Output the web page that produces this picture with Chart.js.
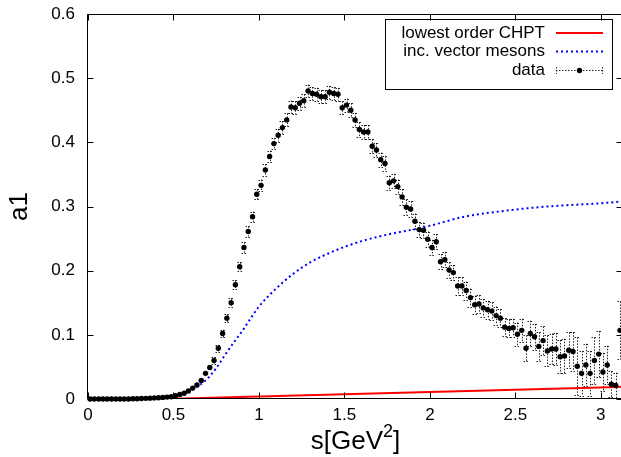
<!DOCTYPE html>
<html><head><meta charset="utf-8">
<script src="https://cdn.jsdelivr.net/npm/chart.js@4/dist/chart.umd.min.js"></script>
<style>html,body{margin:0;padding:0;background:#fff;overflow:hidden;width:621px;height:457px}</style>
</head><body>
<canvas id="c" width="640" height="457" style="display:block"></canvas>
<script>
const dataS = [
0.0125,0.0375,0.0625,0.0875,0.1125,0.1375,0.1625,0.1875,0.2125,0.2375,
0.2625,0.2875,0.3125,0.3375,0.3625,0.3875,0.4125,0.4375,0.4625,0.4875,
0.5125,0.5375,0.5625,0.5875,0.6125,0.6375,0.6625,0.6875,0.7125,0.7375,
0.7625,0.7875,0.8125,0.8375,0.8625,0.8875,0.9125,0.9375,0.9625,0.9875,
1.0125,1.0375,1.0625,1.0875,1.1125,1.1375,1.1625,1.1875,1.2125,1.2375,
1.2625,1.2875,1.3125,1.3375,1.3625,1.3875,1.4125,1.4375,1.4625,1.4875,
1.5125,1.5375,1.5625,1.5875,1.6125,1.6375,1.6625,1.6875,1.7125,1.7375,
1.7625,1.7875,1.8125,1.8375,1.8625,1.8875,1.9125,1.9375,1.9625,1.9875,
2.0125,2.0375,2.0625,2.0875,2.1125,2.1375,2.1625,2.1875,2.2125,2.2375,
2.2625,2.2875,2.3125,2.3375,2.3625,2.3875,2.4125,2.4375,2.4625,2.4875,
2.5125,2.5375,2.5625,2.5875,2.6125,2.6375,2.6625,2.6875,2.7125,2.7375,
2.7625,2.7875,2.8125,2.8375,2.8625,2.8875,2.9125,2.9375,2.9625,2.9875,
3.0125,3.0375,3.0625,3.0875,3.1125];
const dataA = [
0,0,0,0,0,0,0,0,0,0,
0.0003,0.0005,0.0007,0.001,0.0013,0.0017,0.002,0.0025,0.003,0.0035,
0.005,0.007,0.009,0.0125,0.017,0.022,0.029,0.040,0.049,0.060,
0.079,0.102,0.126,0.150,0.178,0.206,0.236,0.261,0.284,0.319,
0.333,0.357,0.378,0.398,0.411,0.423,0.435,0.455,0.454,0.461,
0.465,0.480,0.476,0.475,0.471,0.471,0.478,0.476,0.475,0.454,
0.458,0.450,0.435,0.420,0.416,0.416,0.394,0.388,0.373,0.367,
0.337,0.340,0.331,0.315,0.299,0.296,0.277,0.264,0.263,0.249,
0.236,0.245,0.214,0.217,0.201,0.197,0.176,0.176,0.169,0.158,
0.147,0.148,0.142,0.139,0.137,0.130,0.126,0.112,0.110,0.111,
0.101,0.107,0.079,0.102,0.097,0.082,0.091,0.075,0.078,0.078,
0.066,0.067,0.076,0.074,0.051,0.040,0.053,0.040,0.060,0.070,
0.042,0.053,0.023,0.021,0.107];
const dataErr = [
0.001,0.001,0.001,0.001,0.001,0.001,0.001,0.001,0.001,0.001,
0.001,0.001,0.001,0.001,0.001,0.001,0.001,0.001,0.001,0.001,
0.001,0.0015,0.0015,0.002,0.002,0.003,0.003,0.004,0.004,0.005,
0.005,0.006,0.006,0.007,0.007,0.007,0.008,0.008,0.008,0.008,
0.009,0.009,0.009,0.009,0.010,0.010,0.010,0.010,0.010,0.010,
0.010,0.010,0.010,0.010,0.010,0.010,0.010,0.010,0.010,0.010,
0.010,0.011,0.011,0.011,0.011,0.011,0.011,0.011,0.011,0.011,
0.011,0.011,0.011,0.012,0.012,0.012,0.012,0.012,0.012,0.012,
0.012,0.012,0.012,0.012,0.012,0.012,0.014,0.014,0.014,0.014,
0.014,0.014,0.014,0.014,0.014,0.014,0.014,0.014,0.014,0.014,
0.018,0.018,0.020,0.020,0.020,0.022,0.022,0.024,0.024,0.025,
0.026,0.027,0.028,0.030,0.045,0.035,0.033,0.035,0.036,0.036,
0.030,0.030,0.020,0.020,0.045];
const blueS = [0,0.3,0.4,0.5,0.55,0.6,0.65,0.7,0.75,0.8,0.85,0.9,0.95,1.0,1.1,1.2,1.3,1.4,1.5,1.6,1.7,1.8,1.9,2.0,2.2,2.4,2.6,2.8,3.0,3.13];
const blueA = [0,0.0005,0.002,0.005,0.008,0.013,0.021,0.032,0.048,0.068,0.087,0.105,0.125,0.144,0.172,0.195,0.213,0.226,0.237,0.246,0.253,0.259,0.264,0.270,0.284,0.292,0.298,0.302,0.305,0.308];
const redS = [0,0.45,1,1.5,2,2.5,3,3.13];
const redA = [0,0,0.004,0.0075,0.011,0.0145,0.018,0.019];
const xTicks = [0,0.5,1,1.5,2,2.5,3];
const xTickLabels = ['0','0.5','1','1.5','2','2.5','3'];
const yTicks = [0,0.1,0.2,0.3,0.4,0.5,0.6];
const yTickLabels = ['0','0.1','0.2','0.3','0.4','0.5','0.6'];
const legendLabels = ['lowest order CHPT','inc. vector mesons','data'];
const xTitle = ['s[GeV','2',']'];
const yTitle = 'a1';

const FONT = "'Liberation Sans', Arial, Helvetica, sans-serif";
const TICKLEN = 6;

const decor = {
  id:'decor',
  beforeDatasetsDraw(chart){
    const {ctx, scales:{x,y}} = chart;
    ctx.save();
    ctx.strokeStyle='rgba(0,0,0,0.85)';
    ctx.lineWidth=1;
    ctx.setLineDash([1.5,1.5]);
    for(let i=0;i<dataS.length;i++){
      const px = Math.round(x.getPixelForValue(dataS[i]))+0.5;
      const y1 = y.getPixelForValue(dataA[i]+dataErr[i]);
      const y2 = y.getPixelForValue(Math.max(dataA[i]-dataErr[i],0));
      if (Math.abs(y2-y1) < 6) continue;
      ctx.beginPath();
      ctx.moveTo(px,y1); ctx.lineTo(px,y2);
      ctx.moveTo(px-3,Math.round(y1)+0.5); ctx.lineTo(px+3,Math.round(y1)+0.5);
      ctx.moveTo(px-3,Math.round(y2)+0.5); ctx.lineTo(px+3,Math.round(y2)+0.5);
      ctx.stroke();
    }
    ctx.restore();
  },
  afterDatasetsDraw(chart){
    const {ctx, chartArea:a, scales:{x,y}} = chart;
    ctx.save();
    ctx.setLineDash([]);
    ctx.strokeStyle='#000';
    ctx.lineWidth=1;
    const L=a.left-0.5, R=a.right-0.5, T=a.top+0.5, B=a.bottom-0.5;
    ctx.beginPath();
    ctx.moveTo(L,T); ctx.lineTo(R,T); ctx.lineTo(R,B); ctx.lineTo(L,B); ctx.closePath();
    ctx.stroke();
    ctx.beginPath();
    yTicks.forEach(v=>{
      const py=Math.round(y.getPixelForValue(v))+0.5;
      ctx.moveTo(L,py); ctx.lineTo(L+TICKLEN,py);
      ctx.moveTo(R,py); ctx.lineTo(R-TICKLEN,py);
    });
    xTicks.forEach(v=>{
      const px=Math.round(x.getPixelForValue(v))+0.5;
      ctx.moveTo(px,B); ctx.lineTo(px,B-TICKLEN);
      ctx.moveTo(px,T); ctx.lineTo(px,T+TICKLEN);
    });
    ctx.stroke();
    // tick labels
    ctx.fillStyle='#000';
    ctx.font='17px '+FONT;
    ctx.textAlign='right'; ctx.textBaseline='middle';
    yTicks.forEach((v,i)=>{ ctx.fillText(yTickLabels[i], a.left-13, y.getPixelForValue(v)); });
    ctx.textAlign='center';
    xTicks.forEach((v,i)=>{ ctx.fillText(xTickLabels[i], x.getPixelForValue(v), 415); });
    // axis titles
    ctx.font='26px '+FONT;
    const cx=(a.left+a.right)/2, cy=442;
    const w0=ctx.measureText(xTitle[0]).width;
    ctx.font='18px '+FONT;
    const w1=ctx.measureText(xTitle[1]).width;
    ctx.font='26px '+FONT;
    const w2=ctx.measureText(xTitle[2]).width;
    let sx=cx-(w0+w1+w2)/2;
    ctx.textAlign='left';
    ctx.fillText(xTitle[0], sx, cy);
    ctx.font='18px '+FONT;
    ctx.fillText(xTitle[1], sx+w0, cy-10);
    ctx.font='26px '+FONT;
    ctx.fillText(xTitle[2], sx+w0+w1, cy);
    ctx.save();
    ctx.translate(20,(a.top+a.bottom)/2);
    ctx.rotate(-Math.PI/2);
    ctx.textAlign='center';
    ctx.fillText(yTitle,0,0);
    ctx.restore();
    // legend
    ctx.lineWidth=1;
    ctx.strokeStyle='#000';
    ctx.strokeRect(385.5,19.5,227,70);
    ctx.font='17px '+FONT;
    ctx.textAlign='right'; ctx.textBaseline='middle';
    const ly=[33,51.5,70];
    legendLabels.forEach((t,i)=>ctx.fillText(t,545,ly[i]));
    ctx.lineWidth=2;
    ctx.strokeStyle='#ff0000';
    ctx.beginPath(); ctx.moveTo(556,ly[0]); ctx.lineTo(603,ly[0]); ctx.stroke();
    ctx.strokeStyle='#0000ff';
    ctx.setLineDash([2,3]);
    ctx.beginPath(); ctx.moveTo(556,ly[1]); ctx.lineTo(603,ly[1]); ctx.stroke();
    ctx.lineWidth=1;
    ctx.strokeStyle='rgba(0,0,0,0.85)';
    ctx.setLineDash([1.5,1.5]);
    ctx.beginPath();
    ctx.moveTo(556,ly[2]+0.5); ctx.lineTo(603,ly[2]+0.5);
    ctx.moveTo(556.5,ly[2]-3); ctx.lineTo(556.5,ly[2]+4);
    ctx.moveTo(602.5,ly[2]-3); ctx.lineTo(602.5,ly[2]+4);
    ctx.stroke();
    ctx.setLineDash([]);
    ctx.fillStyle='#000';
    ctx.beginPath(); ctx.arc(579.5,ly[2]+0.5,2.7,0,Math.PI*2); ctx.fill();
    ctx.restore();
  }
};

new Chart(document.getElementById('c'), {
  type:'scatter',
  data:{datasets:[
    {label:legendLabels[2], data:dataS.map((s,i)=>({x:s,y:dataA[i]})), showLine:false, pointRadius:2.7, pointBackgroundColor:'#000', pointBorderWidth:0, pointBorderColor:'#000', clip:false},
    {label:legendLabels[1], data:blueS.map((s,i)=>({x:s,y:blueA[i]})), showLine:true, borderColor:'#0000ff', borderWidth:2, borderDash:[2,3], pointRadius:0, cubicInterpolationMode:'monotone', fill:false},
    {label:legendLabels[0], data:redS.map((s,i)=>({x:s,y:redA[i]})), showLine:true, borderColor:'#ff0000', borderWidth:2, pointRadius:0, fill:false}
  ]},
  options:{
    responsive:false, animation:false, devicePixelRatio:1,
    layout:{padding:{left:0,top:14,right:17,bottom:0}},
    plugins:{legend:{display:false}, tooltip:{enabled:false}},
    scales:{
      x:{type:'linear', min:0, max:3.13, grid:{display:false, drawTicks:false}, border:{display:false},
         ticks:{display:false}, afterFit:s=>{s.height=58;}},
      y:{type:'linear', min:0, max:0.6, grid:{display:false, drawTicks:false}, border:{display:false},
         ticks:{display:false}, afterFit:s=>{s.width=88;}}
    }
  },
  plugins:[decor]
});
</script>
</body></html>
